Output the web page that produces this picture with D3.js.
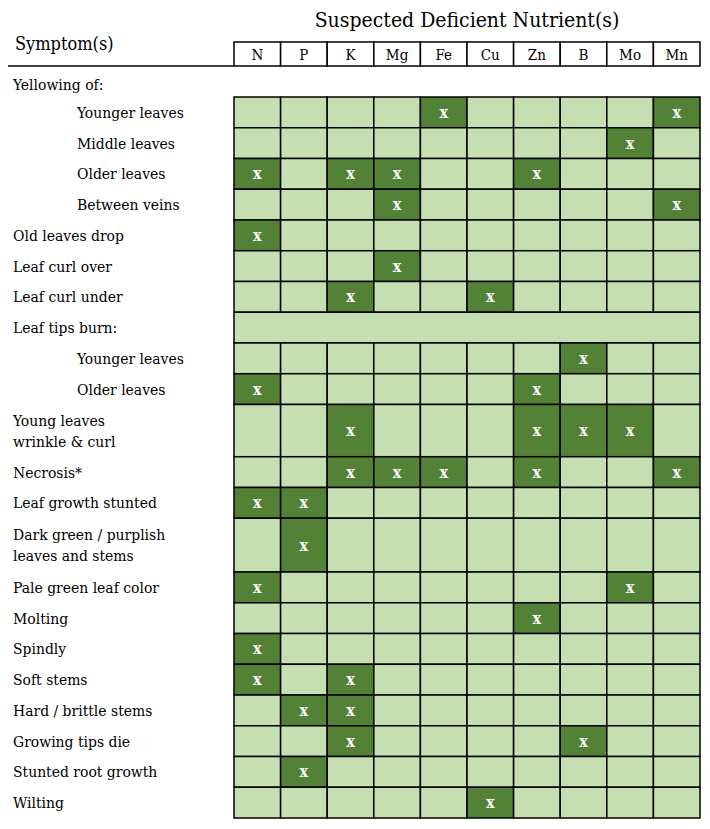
<!DOCTYPE html>
<html><head><meta charset="utf-8">
<script src="https://cdn.jsdelivr.net/npm/d3@7"></script>
<style>body{margin:0;background:#fff}text{font-family:"DejaVu Serif Condensed","DejaVu Serif",serif}</style>
</head><body><svg id="c" width="710" height="829"></svg>
<script>
const nutrients=["N","P","K","Mg","Fe","Cu","Zn","B","Mo","Mn"];
const symptoms=["Younger leaves","Middle leaves","Older leaves","Between veins","Old leaves drop","Leaf curl over","Leaf curl under","Leaf tips burn:","Younger leaves","Older leaves","Young leaves|wrinkle & curl","Necrosis*","Leaf growth stunted","Dark green / purplish|leaves and stems","Pale green leaf color","Molting","Spindly","Soft stems","Hard / brittle stems","Growing tips die","Stunted root growth","Wilting"];
const indented=[1,1,1,1,0,0,0,0,1,1,0,0,0,0,0,0,0,0,0,0,0,0];
const rowWeights=[1,1,1,1,1,1,1,1,1,1,1.7,1,1,1.75,1,1,1,1,1,1,1,1];
const mergedRows=[7];
const marks=[["Fe","Mn"],["Mo"],["N","K","Mg","Zn"],["Mg","Mn"],["N"],["Mg"],["K","Cu"],[],["B"],["N","Zn"],["K","Zn","B","Mo"],["K","Mg","Fe","Zn","Mn"],["N","P"],["P"],["N","Mo"],["Zn"],["N"],["N","K"],["P","K"],["K","B"],["P"],["Cu"]];

const svg=d3.select("#c");
const x=d3.scaleBand().domain(nutrients).range([234,700]);
const total=d3.sum(rowWeights);
const yS=d3.scaleLinear().domain([0,total]).range([97,818]);
const cum=[0];rowWeights.forEach((w,i)=>cum.push(cum[i]+w));
const light="#c5dfb3",dark="#538135";

svg.append("text").attr("x",467).attr("y",27).attr("text-anchor","middle").attr("font-size",21).text("Suspected Deficient Nutrient(s)");
svg.append("text").attr("x",15).attr("y",50).attr("font-size",18).text("Symptom(s)");
svg.append("line").attr("x1",8).attr("x2",234).attr("y1",66).attr("y2",66).attr("stroke","#000").attr("stroke-width",1.5);
nutrients.forEach(n=>{
  svg.append("rect").attr("x",x(n)).attr("y",42).attr("width",x.bandwidth()).attr("height",24).attr("fill","#fff").attr("stroke","#000").attr("stroke-width",1.5);
  svg.append("text").attr("x",x(n)+x.bandwidth()/2).attr("y",60).attr("text-anchor","middle").attr("font-size",15).text(n);
});
svg.append("text").attr("x",13).attr("y",90).attr("font-size",15.5).text("Yellowing of:");

symptoms.forEach((s,i)=>{
  const y0=yS(cum[i]),y1=yS(cum[i+1]),cy=(y0+y1)/2;
  if(mergedRows.includes(i)){
    svg.append("rect").attr("x",234).attr("y",y0).attr("width",466).attr("height",y1-y0).attr("fill",light).attr("stroke","#000").attr("stroke-width",1.5);
  } else nutrients.forEach(n=>{
    const on=marks[i].includes(n);
    svg.append("rect").attr("x",x(n)).attr("y",y0).attr("width",x.bandwidth()).attr("height",y1-y0).attr("fill",on?dark:light).attr("stroke","#000").attr("stroke-width",1.5);
    if(on) svg.append("text").attr("x",x(n)+x.bandwidth()/2).attr("y",cy+5.5).attr("text-anchor","middle").attr("font-size",16).attr("font-weight","bold").attr("fill","#fff").text("x");
  });
  const lines=s.split("|"),tx=indented[i]?77:13;
  lines.forEach((l,k)=>{
    svg.append("text").attr("x",tx).attr("y",cy+5.5+(k-(lines.length-1)/2)*21).attr("font-size",15.5).text(l);
  });
});
</script></body></html>
